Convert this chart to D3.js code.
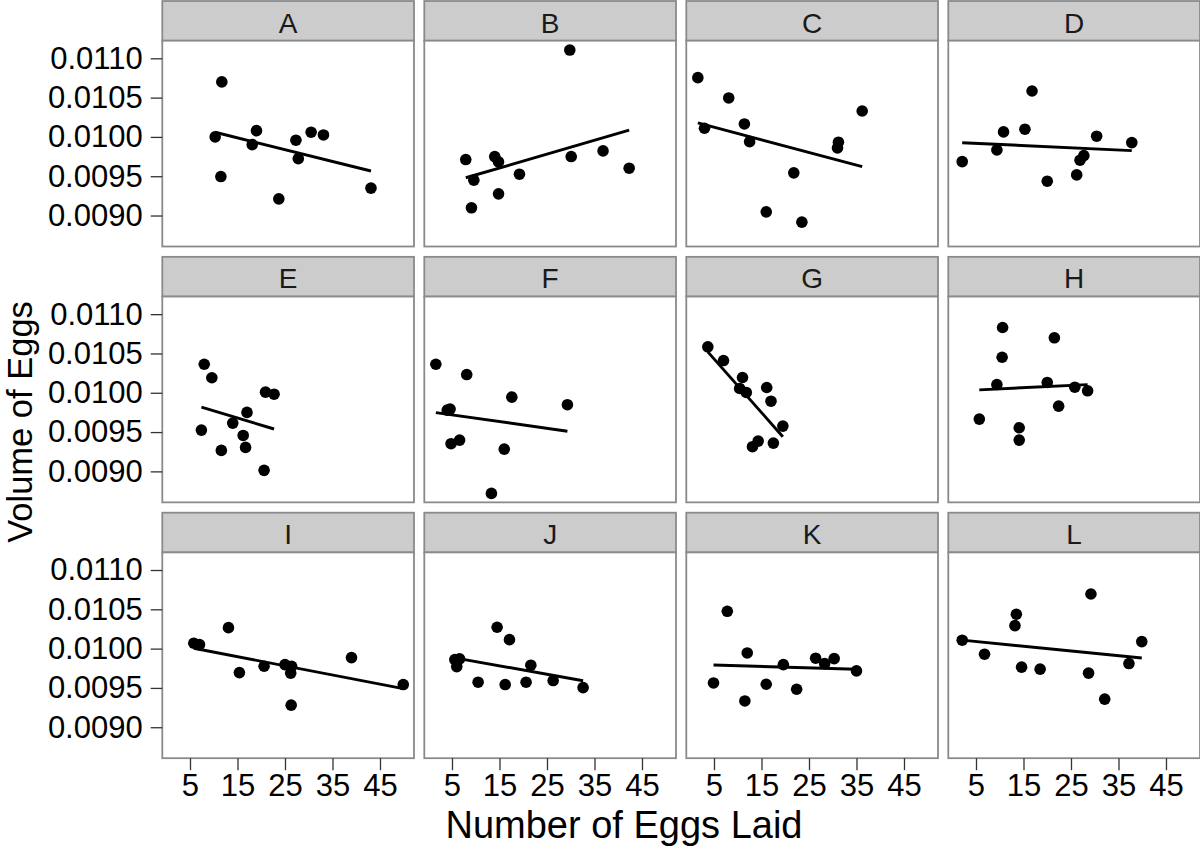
<!DOCTYPE html>
<html>
<head>
<meta charset="utf-8">
<script src="https://cdn.jsdelivr.net/npm/d3@7"></script>
<style>
  html, body { margin: 0; padding: 0; background: #fff; }
  svg { display: block; font-family: "Liberation Sans", Arial, Helvetica, sans-serif; }
</style>
</head>
<body>
<svg id="chart" width="1200" height="849"></svg>
<script>
// ---- Data ----
const panelLabels = ["A","B","C","D","E","F","G","H","I","J","K","L"];

const eggsA = [10.3, 11.7, 11.5, 19.0, 18.1, 27.3, 30.5, 33.1, 27.8, 23.7, 43.1];
const volA  = [0.01000, 0.01070, 0.009496, 0.01008, 0.009902, 0.009958, 0.01006, 0.010025, 0.009724, 0.009212, 0.009348];

const eggsB = [29.8, 7.9, 14.0, 14.8, 9.6, 9.1, 14.8, 19.2, 30.1, 36.8, 42.3];
const volB  = [0.011105, 0.009712, 0.00975, 0.009682, 0.00945, 0.009098, 0.009276, 0.009526, 0.00975, 0.009822, 0.009602];

const eggsC = [1.6, 8.1, 3.0, 11.4, 12.5, 21.8, 16.0, 23.5, 31.2, 31.0, 36.2];
const volC  = [0.010754, 0.010496, 0.01011, 0.010165, 0.00994, 0.009543, 0.009047, 0.008916, 0.009933, 0.00986, 0.01033];

const eggsD = [16.8, 10.8, 15.3, 9.4, 2.1, 30.4, 37.8, 27.7, 26.9, 26.2, 20.0];
const volD  = [0.010584, 0.010064, 0.010098, 0.009835, 0.009686, 0.010009, 0.009928, 0.009762, 0.009704, 0.009517, 0.009437];

const eggsE = [8.0, 9.6, 20.9, 22.7, 17.0, 14.0, 7.4, 16.2, 16.7, 11.6, 20.6];
const volE  = [0.010363, 0.010191, 0.010008, 0.009982, 0.00975, 0.009614, 0.009525, 0.009457, 0.009305, 0.009267, 0.009013];

const eggsF = [1.6, 8.1, 17.6, 29.3, 4.0, 4.6, 4.8, 6.6, 16.0, 13.3];
const volF  = [0.010363, 0.010232, 0.009944, 0.009848, 0.009779, 0.009792, 0.009352, 0.009398, 0.009283, 0.00872];

const eggsG = [3.7, 7.0, 11.0, 10.4, 11.8, 16.1, 17.0, 19.5, 14.3, 13.1, 17.5];
const volG  = [0.010585, 0.01041, 0.010194, 0.010055, 0.010004, 0.010067, 0.009893, 0.009576, 0.009385, 0.009314, 0.00936];

const eggsH = [10.6, 21.5, 10.5, 9.4, 20.0, 25.8, 28.5, 22.4, 5.7, 14.1, 14.1];
const volH  = [0.01083, 0.010699, 0.010452, 0.010105, 0.010131, 0.010071, 0.010025, 0.00983, 0.009665, 0.009555, 0.009398];

const eggsI = [5.8, 7.0, 13.1, 15.4, 20.6, 25.0, 26.4, 26.2, 26.3, 39.0, 49.9];
const volI  = [0.010069, 0.010051, 0.010267, 0.009695, 0.009776, 0.009797, 0.009776, 0.009687, 0.009281, 0.009886, 0.009543];

const eggsJ = [5.6, 6.6, 6.0, 14.5, 17.1, 21.6, 10.5, 16.2, 20.6, 26.3, 32.6];
const volJ  = [0.00986, 0.009869, 0.009771, 0.010272, 0.010114, 0.009789, 0.009573, 0.009543, 0.009573, 0.009594, 0.009504];

const eggsK = [7.8, 12.0, 19.6, 26.4, 28.3, 30.3, 35.0, 4.9, 16.0, 22.4, 11.5];
const volK  = [0.010475, 0.009945, 0.009797, 0.009878, 0.009809, 0.009873, 0.009717, 0.009563, 0.009547, 0.009483, 0.009334];

const eggsL = [29.2, 13.5, 13.2, 2.1, 39.9, 6.8, 14.6, 18.5, 28.7, 37.2, 32.1];
const volL  = [0.010695, 0.010437, 0.010292, 0.010107, 0.010089, 0.009929, 0.009764, 0.009739, 0.009688, 0.00981, 0.009357];

const xTicks = [5, 15, 25, 35, 45];
const yTicks = [0.0090, 0.0095, 0.0100, 0.0105, 0.0110];
const xTitle = "Number of Eggs Laid";
const yTitle = "Volume of Eggs";

// ---- Assemble panels ----
const eggsAll = [eggsA, eggsB, eggsC, eggsD, eggsE, eggsF, eggsG, eggsH, eggsI, eggsJ, eggsK, eggsL];
const volAll  = [volA, volB, volC, volD, volE, volF, volG, volH, volI, volJ, volK, volL];
const panels = panelLabels.map((lab, i) => ({
  label: lab,
  pts: eggsAll[i].map((e, k) => ({ x: e, y: volAll[i][k] }))
}));

// ---- Layout ----
const svg = d3.select("#chart");
const ncol = 4;
const panelLeft0 = 162.3, colStep = 262, panelW = 251.7;
const stripTop0 = 1, rowStep = 255.85, stripH = 39.7, panelH = 205.8;
const borderCol = "#8a8a8a";
const fontFam = "'Liberation Sans', Arial, sans-serif";

const x = d3.scaleLinear().domain([-0.83, 52.16]).range([0, panelW]);
const y = d3.scaleLinear().domain([0.008606, 0.011224]).range([panelH, 0]);

function linFit(pts) {
  const mx = d3.mean(pts, d => d.x), my = d3.mean(pts, d => d.y);
  let sxy = 0, sxx = 0;
  pts.forEach(d => { sxy += (d.x - mx) * (d.y - my); sxx += (d.x - mx) * (d.x - mx); });
  const b = sxy / sxx, a = my - b * mx;
  const [x0, x1] = d3.extent(pts, d => d.x);
  return [{ x: x0, y: a + b * x0 }, { x: x1, y: a + b * x1 }];
}

panels.forEach((p, i) => {
  const r = Math.floor(i / ncol), c = i % ncol;
  const left = panelLeft0 + c * colStep;
  const stripTop = stripTop0 + r * rowStep;
  const top = stripTop + stripH;

  // strip
  const sg = svg.append("g").attr("transform", `translate(${left},${stripTop})`);
  sg.append("rect").attr("x", 0).attr("y", 0).attr("width", panelW).attr("height", stripH)
    .attr("fill", "#cccccc").attr("stroke", borderCol).attr("stroke-width", 1.8);
  sg.append("text").attr("x", panelW / 2).attr("y", 31.5).attr("text-anchor", "middle")
    .attr("font-size", 28).attr("fill", "#1a1a1a").text(p.label);

  const g = svg.append("g").attr("transform", `translate(${left},${top})`);
  g.append("rect").attr("width", panelW).attr("height", panelH).attr("fill", "#fff");

  // fit line
  const fit = linFit(p.pts);
  g.append("path").datum(fit)
    .attr("d", d3.line().x(d => x(d.x)).y(d => y(d.y)))
    .attr("stroke", "#000").attr("stroke-width", 2.9).attr("fill", "none");

  // points
  g.selectAll("circle").data(p.pts).join("circle")
    .attr("cx", d => x(d.x)).attr("cy", d => y(d.y)).attr("r", 5.8).attr("fill", "#000");

  g.append("rect").attr("width", panelW).attr("height", panelH)
    .attr("fill", "none").attr("stroke", borderCol).attr("stroke-width", 1.8);

  // y axis on left column
  if (c === 0) {
    const ya = g.append("g").call(d3.axisLeft(y).tickValues(yTicks).tickFormat(d3.format(".4f"))
      .tickSize(11.6).tickPadding(8));
    ya.select(".domain").remove();
    ya.selectAll("line").attr("stroke", "#333").attr("stroke-width", 1.3);
    ya.selectAll("text").attr("font-size", 31).attr("fill", "#000").attr("font-family", fontFam);
  }
  // x axis on bottom row
  if (r === 2) {
    const xa = g.append("g").attr("transform", `translate(0,${panelH})`)
      .call(d3.axisBottom(x).tickValues(xTicks).tickFormat(d3.format("d")).tickSize(12).tickPadding(4));
    xa.select(".domain").remove();
    xa.selectAll("line").attr("stroke", "#333").attr("stroke-width", 1.3);
    xa.selectAll("text").attr("font-size", 31).attr("fill", "#000").attr("font-family", fontFam);
  }
});

// axis titles
svg.append("text").attr("x", 624).attr("y", 838).attr("text-anchor", "middle")
  .attr("font-size", 38).attr("fill", "#000").text(xTitle);
svg.append("text").attr("transform", "translate(31.5,422) rotate(-90)").attr("text-anchor", "middle")
  .attr("font-size", 34.5).attr("fill", "#000").text(yTitle);
</script>
</body>
</html>
